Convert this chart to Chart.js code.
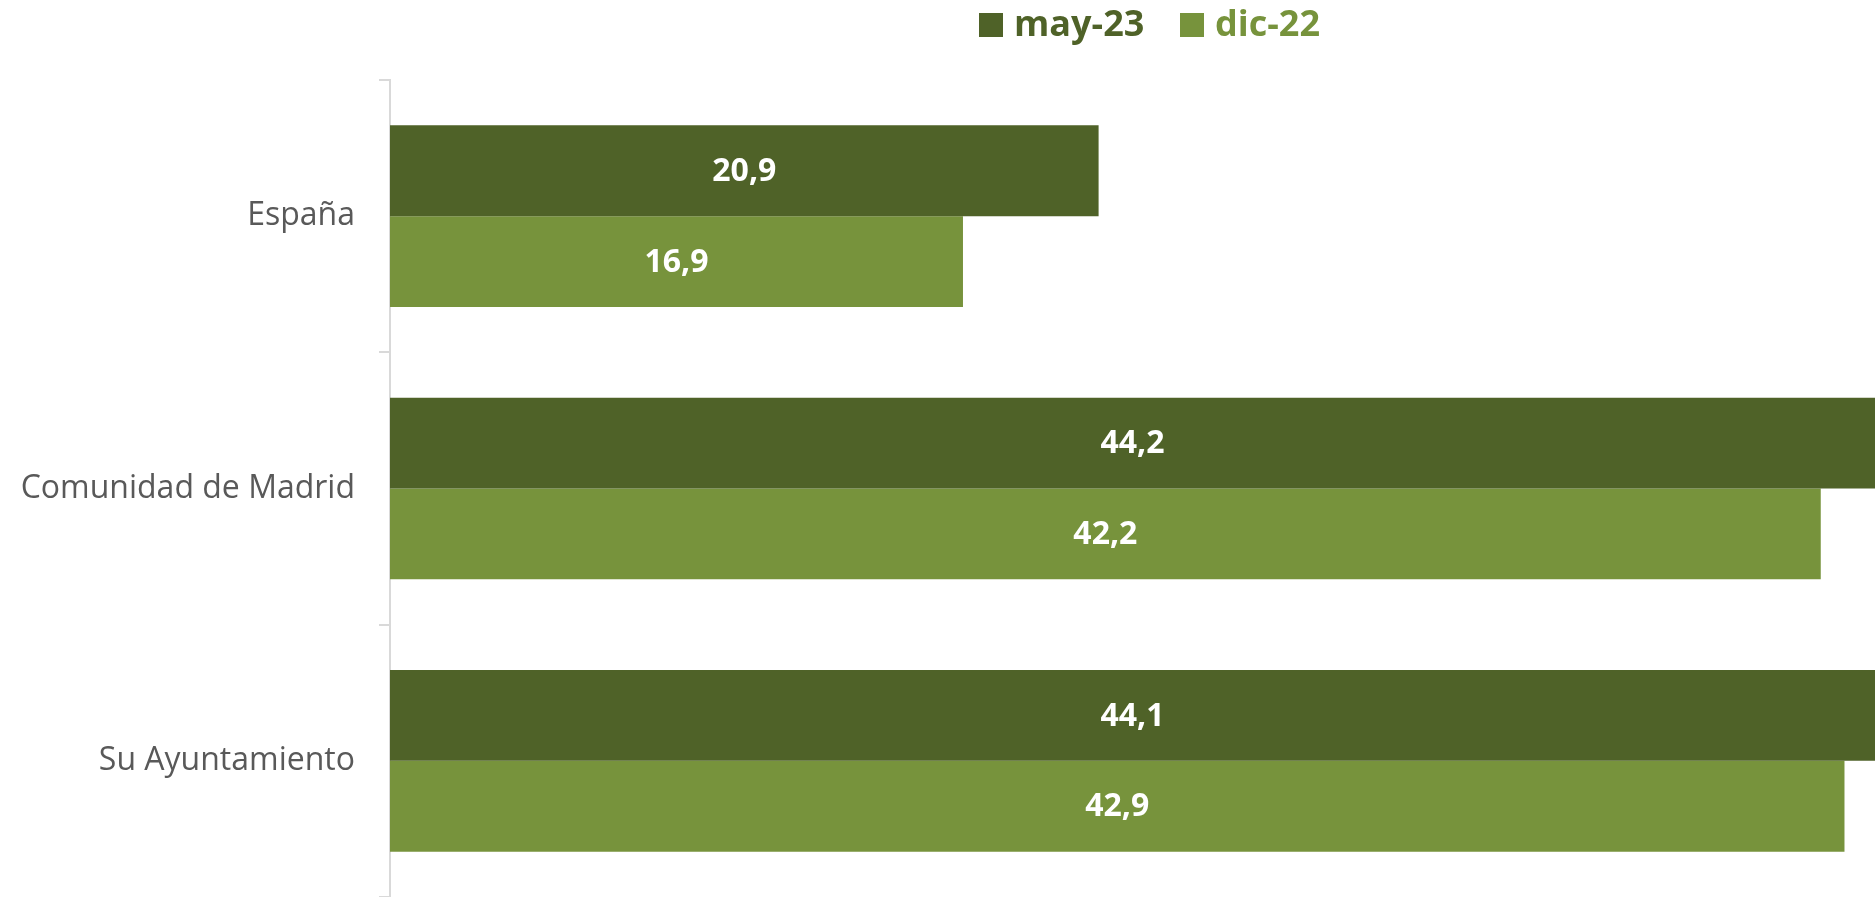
<!DOCTYPE html>
<html>
<head>
<meta charset="utf-8">
<script src="https://cdn.jsdelivr.net/npm/chart.js@4/dist/chart.umd.min.js"></script>
<style>
  body { margin: 0; background: #fff; }
  #wrap { width: 1875px; height: 897px; position: relative; }
</style>
</head>
<body>
<div id="wrap"><canvas id="barChart"></canvas></div>
<script>
// Data
const categories = ['España', 'Comunidad de Madrid', 'Su Ayuntamiento'];
const may23 = [20.9, 44.2, 44.1];
const dic22 = [16.9, 42.2, 42.9];
const seriesNames = ['may-23', 'dic-22'];
const seriesColors = ['#4F6228', '#77933C'];

const FONT = '"Open Sans", "Noto Sans", sans-serif';

// white value labels in the middle of the visible part of each bar
const valueLabels = {
    id: 'valueLabels',
    afterDatasetsDraw(chart) {
        const ctx = chart.ctx;
        const area = chart.chartArea;
        ctx.save();
        ctx.fillStyle = '#FFFFFF';
        ctx.font = 'bold 32px ' + FONT;
        ctx.textAlign = 'center';
        ctx.textBaseline = 'middle';
        chart.data.datasets.forEach((ds, i) => {
            chart.getDatasetMeta(i).data.forEach((bar, j) => {
                const right = Math.min(bar.x, area.right);
                const left = Math.max(bar.base, area.left);
                const txt = ds.data[j].toFixed(1).replace('.', ',');
                ctx.fillText(txt, (left + right) / 2, bar.y + 1);
            });
        });
        ctx.restore();
    }
};

// legend drawn by hand, it sits off-centre in the original
const topLegend = {
    id: 'topLegend',
    afterDraw(chart) {
        const ctx = chart.ctx;
        ctx.save();
        ctx.font = 'bold 36px ' + FONT;
        ctx.textBaseline = 'middle';
        const xs = [979, 1180];
        const y = 25;
        chart.data.datasets.forEach((ds, i) => {
            ctx.fillStyle = ds.backgroundColor;
            ctx.fillRect(xs[i], y - 12, 24, 24);
            ctx.fillText(ds.label, xs[i] + 35, y + 1);
        });
        ctx.restore();
    }
};

const ctx = document.getElementById('barChart').getContext('2d');
new Chart(ctx, {
    type: 'bar',
    data: {
        labels: categories,
        datasets: [
            { label: seriesNames[0], data: may23, backgroundColor: seriesColors[0] },
            { label: seriesNames[1], data: dic22, backgroundColor: seriesColors[1] }
        ]
    },
    options: {
        indexAxis: 'y',
        responsive: true,
        maintainAspectRatio: false,
        animation: false,
        categoryPercentage: 0.667,
        barPercentage: 1.0,
        layout: { padding: { top: 80, bottom: 0, left: 0, right: 0 } },
        plugins: {
            legend: { display: false },
            tooltip: { enabled: false }
        },
        scales: {
            x: {
                display: false,
                min: 0,
                max: 43.8
            },
            y: {
                afterFit(scale) {
                    scale.width = 390;
                    scale.paddingTop = 0;
                    scale.paddingBottom = 0;
                },
                grid: {
                    offset: true,
                    drawOnChartArea: false,
                    color: '#D9D9D9',
                    lineWidth: 2,
                    tickLength: 11
                },
                border: { color: '#D9D9D9', width: 2 },
                ticks: {
                    color: '#595959',
                    padding: 24,
                    font: { family: FONT, size: 32 }
                }
            }
        }
    },
    plugins: [valueLabels, topLegend]
});
</script>
</body>
</html>
